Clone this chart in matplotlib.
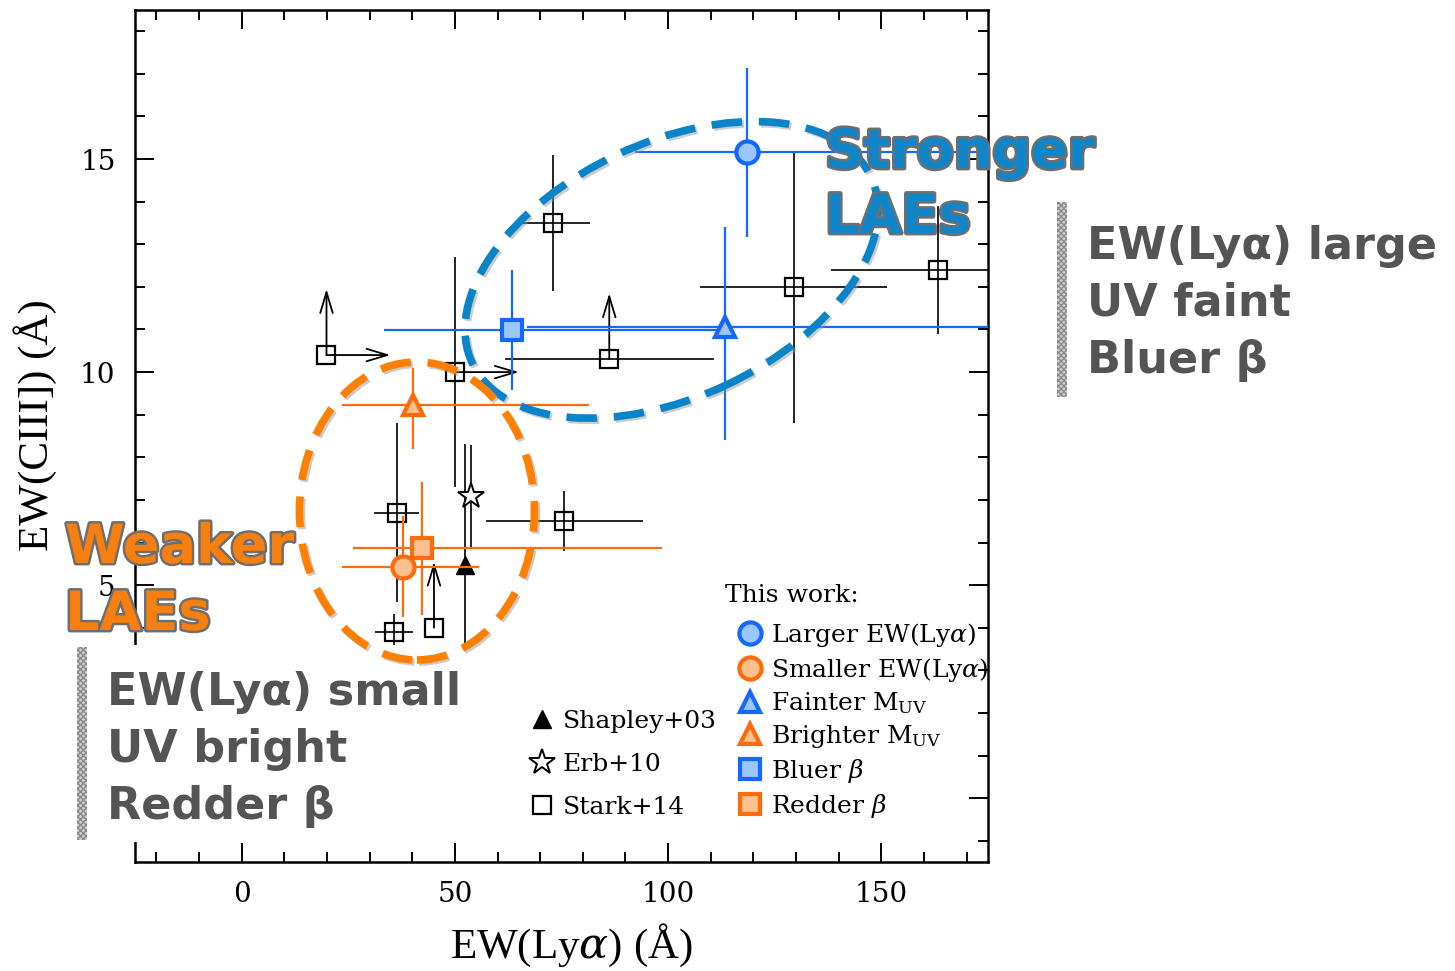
import matplotlib.pyplot as plt
import matplotlib.patheffects as pe
from matplotlib.lines import Line2D
from matplotlib.patches import Ellipse, Rectangle
from matplotlib.transforms import ScaledTranslation
from matplotlib.ticker import MultipleLocator, FuncFormatter

plt.rcParams['font.family'] = ['DejaVu Serif']
plt.rcParams['mathtext.fontset'] = 'dejavuserif'

# Stark+14 (open squares); limits drawn as arrows
stark_x = [19.9, 50.0, 72.9, 86.2, 129.4, 163.3, 75.7, 36.4, 35.7, 45.1]
stark_y = [10.4, 10.0, 13.5, 10.3, 12.0, 12.4, 6.5, 6.7, 3.9, 4.0]
stark_xerr = [0, 0, 8.7, 24.5, 22.0, 25.0, 18.5, 5.3, 4.5, 0]
stark_yerr = [0, 2.7, 1.6, 0, 3.2, 1.5, 0.7, 2.1, 0.43, 0]
stark_xlolim = [True, True, False, False, False, False, False, False, False, False]
stark_ylolim = [True, False, False, True, False, False, False, False, False, True]

# Shapley+03 and Erb+10
shapley_x, shapley_y, shapley_yerr = [52.3], [5.47], [2.85]
erb_x, erb_y, erb_yerr = [53.8], [7.09], [1.2]

# This work
tw_labels = [r'Larger EW(Ly$\alpha$)', r'Smaller EW(Ly$\alpha$)',
             r'Fainter M$_{\rm UV}$', r'Brighter M$_{\rm UV}$',
             r'Bluer $\beta$', r'Redder $\beta$']
tw_x = [118.5, 37.9, 113.3, 40.2, 63.3, 42.3]
tw_y = [15.16, 5.42, 11.06, 9.23, 10.99, 5.87]
tw_xlo = [26.2, 14.3, 46.3, 16.6, 29.9, 16.1]
tw_xhi = [60.0, 17.7, 70.0, 41.3, 52.0, 56.3]
tw_ylo = [2.0, 1.17, 2.65, 1.03, 1.4, 1.57]
tw_yhi = [1.98, 1.2, 2.35, 0.87, 1.4, 1.55]
tw_marker = ['o', 'o', '^', '^', 's', 's']
tw_group = ['blue', 'orange', 'blue', 'orange', 'blue', 'orange']

edge = {'blue': '#1468ff', 'orange': '#ff6a0a'}
face = {'blue': '#9cc6ff', 'orange': '#ffc08e'}
msize = {'o': 16, '^': 15, 's': 14}

W, H = 1455, 971


def fpx(x, y):
    return x / W, 1 - y / H


fig = plt.figure(figsize=(W / 100, H / 100), dpi=100)
ax = fig.add_axes([135 / W, 1 - 862 / H, 853 / W, 852 / H])

# Stark+14
ax.errorbar(stark_x, stark_y, xerr=stark_xerr, yerr=stark_yerr, fmt='s', ms=13,
            mfc='none', mec='black', mew=1.6, ecolor='black', elinewidth=1.2,
            capsize=0, zorder=3)
arrow = dict(arrowstyle='->,head_length=1.5,head_width=0.45', color='black', lw=1.3,
             shrinkA=0, shrinkB=0)
for x, y, xl, yl in zip(stark_x, stark_y, stark_xlolim, stark_ylolim):
    if xl:
        ax.annotate('', xy=(x + 15, y), xytext=(x, y), arrowprops=arrow, zorder=3)
    if yl:
        ax.annotate('', xy=(x, y + 1.55), xytext=(x, y), arrowprops=arrow, zorder=3)

# Shapley+03, Erb+10
ax.errorbar(shapley_x, shapley_y, yerr=shapley_yerr, fmt='^', ms=13, color='black',
            elinewidth=1.2, capsize=0, zorder=3)
ax.errorbar(erb_x, erb_y, yerr=erb_yerr, fmt='*', ms=19, mfc='white', mec='black',
            mew=1.4, ecolor='black', elinewidth=1.2, capsize=0, zorder=3)

# This work
for i in range(len(tw_x)):
    g = tw_group[i]
    ax.errorbar([tw_x[i]], [tw_y[i]], xerr=[[tw_xlo[i]], [tw_xhi[i]]],
                yerr=[[tw_ylo[i]], [tw_yhi[i]]], fmt=tw_marker[i],
                ms=msize[tw_marker[i]], mfc=face[g], mec=edge[g], mew=3,
                ecolor=edge[g], elinewidth=1.6, capsize=0, zorder=4)

ax.set_xlim(-25, 175)
ax.set_ylim(-1.5, 18.5)
ax.xaxis.set_major_locator(MultipleLocator(50))
ax.xaxis.set_minor_locator(MultipleLocator(10))
ax.yaxis.set_major_locator(MultipleLocator(5))
ax.yaxis.set_minor_locator(MultipleLocator(1))
# the y=0 label sits under the lower-left note in the original, so leave it out
ax.yaxis.set_major_formatter(FuncFormatter(lambda v, p: '' if v == 0 else f'{v:g}'))
ax.tick_params(which='both', direction='in', top=True, right=True, width=1.4,
               labelsize=20, pad=14)
ax.tick_params(which='major', length=14)
ax.tick_params(which='minor', length=7.5)
for s in ax.spines.values():
    s.set_linewidth(1.8)

ax.set_xlabel(r'EW(Ly$\alpha$) (Å)', fontsize=31, family='Liberation Serif')
ax.set_ylabel('EW(CIII]) (Å)', fontsize=31, family='Liberation Serif')
ax.xaxis.set_label_coords(0.512, -0.07)
ax.yaxis.set_label_coords(-0.092, 0.513)

# legends
lit_handles = [
    Line2D([], [], ls='none', marker='^', ms=13, color='black'),
    Line2D([], [], ls='none', marker='*', ms=19, mfc='white', mec='black', mew=1.4),
    Line2D([], [], ls='none', marker='s', ms=13, mfc='none', mec='black', mew=1.6),
]
leg1 = ax.legend(lit_handles, ['Shapley+03', 'Erb+10', 'Stark+14'], frameon=False,
                 fontsize=18, loc='upper left', bbox_to_anchor=fpx(529, 710),
                 bbox_transform=fig.transFigure, borderpad=0, borderaxespad=0,
                 handlelength=1.0, handletextpad=0.35, labelspacing=0.79)
ax.add_artist(leg1)
tw_handles = [Line2D([], [], ls='none', marker=m, ms=msize[m], mfc=face[g],
                     mec=edge[g], mew=3) for m, g in zip(tw_marker, tw_group)]
ax.legend(tw_handles, tw_labels, frameon=False, fontsize=18, loc='upper left',
          bbox_to_anchor=fpx(737, 621), bbox_transform=fig.transFigure,
          borderpad=0, borderaxespad=0, handlelength=1.0, handletextpad=0.35,
          labelspacing=0.27)
fig.text(*fpx(725, 596), 'This work:', fontsize=18, ha='left', va='center')

# white patch hiding the left spine behind the lower-left note
fig.add_artist(Rectangle(fpx(70, 842), 410 / W, 197 / H, transform=fig.transFigure,
                         facecolor='white', edgecolor='none', zorder=3))

# grey notes with hatched bars
for (bx, by0, by1) in [(77, 647, 840), (1057, 202, 397)]:
    fig.add_artist(Rectangle(fpx(bx, by1), 10 / W, (by1 - by0) / H,
                             transform=fig.transFigure, facecolor='#d0d0d0',
                             edgecolor='#8a8a8a', hatch='xxxxxx', lw=0, zorder=4))
note_kw = dict(fontsize=32, fontweight='bold', color='#545454', family='DejaVu Sans',
               ha='left', va='baseline', zorder=4)
for j, line in enumerate(['EW(Lyα) small', 'UV bright', 'Redder β']):
    fig.text(*fpx(107, 705 + 57 * j), line, **note_kw)
for j, line in enumerate(['EW(Lyα) large', 'UV faint', 'Bluer β']):
    fig.text(*fpx(1087, 259 + 57 * j), line, **note_kw)

# dashed ellipses around the groups
shadow = [pe.SimpleLineShadow(offset=(1.5, -1.5), shadow_color='#999999', alpha=0.5),
          pe.Normal()]
e_blue = Ellipse((0, 0), 4.4, 2.55, angle=25, fill=False, ec='#0a84c8', lw=5.5,
                 ls=(0, (4, 2.2)), zorder=5,
                 transform=fig.dpi_scale_trans + ScaledTranslation(100.8, 12.4, ax.transData))
e_orange = Ellipse((0, 0), 2.35, 2.98, angle=0, fill=False, ec='#ff8000', lw=5.5,
                   ls=(0, (4, 2.2)), zorder=5,
                   transform=fig.dpi_scale_trans + ScaledTranslation(41.1, 6.74, ax.transData))
for e in (e_blue, e_orange):
    e.set_path_effects(shadow)
    fig.add_artist(e)

big_kw = dict(fontsize=39, fontweight='bold', family='DejaVu Sans', ha='left',
              va='baseline', zorder=6,
              path_effects=[pe.withStroke(linewidth=3.5, foreground='#6e6e6e')])
fig.text(*fpx(825, 168), 'Stronger', color='#0f86c9', **big_kw)
fig.text(*fpx(825, 233), 'LAEs', color='#0f86c9', **big_kw)
fig.text(*fpx(65, 563), 'Weaker', color='#f77f10', **big_kw)
fig.text(*fpx(65, 630), 'LAEs', color='#f77f10', **big_kw)

fig.savefig('out.png', dpi=100)
